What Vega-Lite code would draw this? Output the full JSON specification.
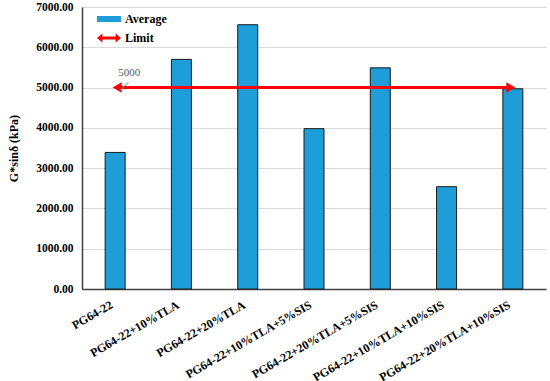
{
  "$schema": "https://vega.github.io/schema/vega-lite/v6.json",
  "width": 464,
  "height": 282,
  "autosize": {"type": "none"},
  "padding": {"left": 82, "top": 7, "right": 4, "bottom": 92},
  "background": "white",
  "config": {
    "view": {"stroke": null},
    "font": "Liberation Serif",
    "legend": {
      "orient": "none", "legendX": 21, "legendY": 6, "symbolOpacity": 1,
      "labelFont": "Liberation Serif", "labelFontWeight": "bold", "labelFontSize": 12,
      "labelColor": "black", "symbolSize": 144, "rowPadding": 7, "labelOffset": 10,
      "symbolStrokeWidth": 0
    }
  },
  "datasets": {
    "bars": [
      {"material": "PG64-22", "value": 3390, "series": "Average"},
      {"material": "PG64-22+10%TLA", "value": 5700, "series": "Average"},
      {"material": "PG64-22+20%TLA", "value": 6560, "series": "Average"},
      {"material": "PG64-22+10%TLA+5%SIS", "value": 3980, "series": "Average"},
      {"material": "PG64-22+20%TLA+5%SIS", "value": 5490, "series": "Average"},
      {"material": "PG64-22+10%TLA+10%SIS", "value": 2540, "series": "Average"},
      {"material": "PG64-22+20%TLA+10%SIS", "value": 4970, "series": "Average"}
    ],
    "limit": [
      {"from": "PG64-22", "to": "PG64-22+20%TLA+10%SIS", "limit": 5000, "series": "Limit", "label": "5000"}
    ]
  },
  "layer": [
    {
      "data": {"name": "bars"},
      "mark": {"type": "bar", "width": 20, "stroke": "#1a1a1a", "strokeWidth": 1},
      "encoding": {
        "x": {
          "field": "material", "type": "nominal", "sort": null,
          "axis": {
            "title": null, "labelAngle": -30, "labelAlign": "right", "labelBaseline": "top",
            "labelFont": "Liberation Serif", "labelFontWeight": "bold", "labelFontSize": 12,
            "labelColor": "black", "ticks": false, "domainColor": "#404040", "domainWidth": 1.5,
            "labelPadding": 10, "labelOffset": -6
          }
        },
        "y": {
          "field": "value", "type": "quantitative",
          "scale": {"domain": [0, 7000]},
          "axis": {
            "title": "G*sinδ (kPa)", "titleFont": "Liberation Serif", "titleFontWeight": "bold",
            "titleFontSize": 12, "titleColor": "black", "titlePadding": 15,
            "format": ".2f", "values": [0, 1000, 2000, 3000, 4000, 5000, 6000, 7000],
            "labelFont": "Liberation Serif", "labelFontWeight": "bold", "labelFontSize": 11.5,
            "labelColor": "black", "ticks": false, "labelPadding": 9,
            "domainColor": "#404040", "domainWidth": 1.5,
            "gridColor": "#d9d9d9", "gridWidth": 1
          }
        },
        "color": {
          "field": "series", "type": "nominal",
          "scale": {"domain": ["Average", "Limit"], "range": ["#1f9dd9", "#ff0000"]},
          "legend": {"title": null}
        }
      }
    },
    {
      "data": {"name": "limit"},
      "mark": {"type": "rule", "strokeWidth": 3, "color": "#ff0000"},
      "encoding": {
        "x": {"field": "from", "type": "nominal", "sort": null},
        "x2": {"field": "to"},
        "y": {"field": "limit", "type": "quantitative"}
      }
    },
    {
      "data": {"name": "limit"},
      "mark": {"type": "point", "shape": "triangle-left", "filled": true, "size": 110, "color": "#ff0000", "opacity": 1, "xOffset": 2},
      "encoding": {
        "x": {"field": "from", "type": "nominal", "sort": null},
        "y": {"field": "limit", "type": "quantitative"}
      }
    },
    {
      "data": {"name": "limit"},
      "mark": {"type": "point", "shape": "triangle-right", "filled": true, "size": 110, "color": "#ff0000", "opacity": 1, "xOffset": -2},
      "encoding": {
        "x": {"field": "to", "type": "nominal", "sort": null},
        "y": {"field": "limit", "type": "quantitative"}
      }
    },
    {
      "data": {"name": "limit"},
      "mark": {"type": "text", "font": "Liberation Serif", "fontSize": 11, "color": "#595959", "dx": 14, "dy": -15},
      "encoding": {
        "x": {"field": "from", "type": "nominal", "sort": null},
        "y": {"field": "limit", "type": "quantitative"},
        "text": {"field": "label"}
      }
    },
    {
      "data": {"name": "limit"},
      "mark": {"type": "text", "font": "DejaVu Sans", "fontSize": 9, "color": "#8c8c8c", "dx": 8, "dy": -4, "angle": 20, "text": "╱"},
      "encoding": {
        "x": {"field": "from", "type": "nominal", "sort": null},
        "y": {"field": "limit", "type": "quantitative"}
      }
    },
    {
      "data": {"values": [{"series": "Average", "v": 5000, "m": "PG64-22"}, {"series": "Limit", "v": 5000, "m": "PG64-22"}]},
      "mark": {"type": "point", "filled": true, "size": 0},
      "encoding": {
        "x": {"field": "m", "type": "nominal", "sort": null},
        "y": {"field": "v", "type": "quantitative"},
        "color": {
          "field": "series", "type": "nominal",
          "scale": {"domain": ["Average", "Limit"], "range": ["#1f9dd9", "#ff0000"]},
          "legend": {"title": null}
        },
        "shape": {
          "field": "series", "type": "nominal",
          "scale": {"domain": ["Average", "Limit"], "range": ["M-2,-0.5H2V0.5H-2Z", "M-2,0L-1.1,-0.75V-0.25H1.1V-0.75L2,0L1.1,0.75V0.25H-1.1V0.75Z"]},
          "legend": {"title": null}
        }
      }
    }
  ],
  "resolve": {"scale": {"x": "shared"}}
}
